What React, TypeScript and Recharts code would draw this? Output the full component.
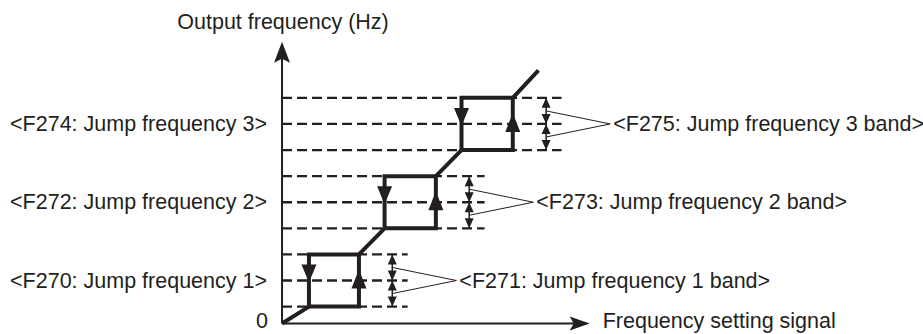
import { ComposedChart, XAxis, YAxis, Line, Scatter, ReferenceLine } from "recharts";

// jump frequencies F270 / F272 / F274 and their band width (F271 / F273 / F275)
const jumpFrequencies = [16.5, 46.5, 76.5];
const jumpBand = 20;
// setting signal where each jump starts / ends
const jumpStartSignal = [10.5, 40, 70];
const jumpEndSignal = [30, 60, 90];
const curveEnd = { x: 100, y: 97 };
const axisEnd = { x: 120, y: 108 };

const jumpLabels = [
  "<F270: Jump frequency 1>",
  "<F272: Jump frequency 2>",
  "<F274: Jump frequency 3>",
];
const bandLabels = [
  "<F271: Jump frequency 1 band>",
  "<F273: Jump frequency 2 band>",
  "<F275: Jump frequency 3 band>",
];
const yTitle = "Output frequency (Hz)";
const xTitle = "Frequency setting signal";
const originLabel = "0";

const INK = "#231f20";
const FONT = "'Liberation Sans', Arial, sans-serif";
const FS = 21.5;
const half = jumpBand / 2;
const arrowX = (i: number) => jumpEndSignal[i] + 13;
const dashEnd = (i: number) => jumpEndSignal[i] + 19;
const tipX = (i: number) => jumpEndSignal[i] + 38;

// diagonal pieces of the curve, broken by nulls at each jump
const curve: { x: number; y: number | null }[] = [{ x: 0, y: 0 }];
jumpFrequencies.forEach((f, i) => {
  curve.push({ x: jumpStartSignal[i], y: f - half });
  curve.push({ x: jumpStartSignal[i] + 1, y: null });
  curve.push({ x: jumpEndSignal[i], y: f + half });
});
curve.push(curveEnd);

const boxes = jumpFrequencies.map((f, i) => [
  { x: jumpStartSignal[i], y: f - half },
  { x: jumpEndSignal[i], y: f - half },
  { x: jumpEndSignal[i], y: f + half },
  { x: jumpStartSignal[i], y: f + half },
  { x: jumpStartSignal[i], y: f - half },
]);

const marks: any[] = [
  { x: 0, y: axisEnd.y, kind: "yTip" },
  { x: axisEnd.x, y: 0, kind: "xTip" },
  { x: 0, y: axisEnd.y, kind: "yTitle", text: yTitle },
  { x: axisEnd.x, y: 0, kind: "xTitle", text: xTitle },
  { x: 0, y: 0, kind: "left", text: originLabel, dx: -14, dy: -3 },
];
jumpFrequencies.forEach((f, i) => {
  marks.push({ x: jumpStartSignal[i], y: f, kind: "down" });
  marks.push({ x: jumpEndSignal[i], y: f, kind: "up" });
  marks.push({ x: arrowX(i), y: f + half, kind: "headUp" });
  marks.push({ x: arrowX(i), y: f, kind: "headBoth" });
  marks.push({ x: arrowX(i), y: f - half, kind: "headDown" });
  marks.push({ x: 0, y: f, kind: "left", text: jumpLabels[i], dx: -15, dy: 0 });
  marks.push({ x: tipX(i), y: f, kind: "right", text: bandLabels[i] });
});

function Mark(props: any) {
  const { cx, cy, payload } = props;
  const t = { fontFamily: FONT, fontSize: FS, fill: INK };
  switch (payload.kind) {
    case "yTip":
      return <polygon points={`${cx},${cy} ${cx + 8},${cy + 21} ${cx},${cy + 17} ${cx - 8},${cy + 21}`} fill={INK} />;
    case "xTip":
      return <polygon points={`${cx},${cy} ${cx - 20},${cy - 7} ${cx - 16},${cy} ${cx - 20},${cy + 7}`} fill={INK} />;
    case "down":
      return <polygon points={`${cx - 7.5},${cy - 16} ${cx + 7.5},${cy - 16} ${cx},${cy + 2}`} fill={INK} />;
    case "up":
      return <polygon points={`${cx},${cy - 11} ${cx - 7.5},${cy + 8} ${cx + 7.5},${cy + 8}`} fill={INK} />;
    case "headUp":
      return <polygon points={`${cx},${cy} ${cx - 4.5},${cy + 10} ${cx + 4.5},${cy + 10}`} fill={INK} />;
    case "headDown":
      return <polygon points={`${cx},${cy} ${cx - 4.5},${cy - 10} ${cx + 4.5},${cy - 10}`} fill={INK} />;
    case "headBoth":
      return (
        <g>
          <polygon points={`${cx},${cy} ${cx - 4.5},${cy - 10} ${cx + 4.5},${cy - 10}`} fill={INK} />
          <polygon points={`${cx},${cy} ${cx - 4.5},${cy + 10} ${cx + 4.5},${cy + 10}`} fill={INK} />
        </g>
      );
    case "yTitle":
      return <text x={cx + 1} y={cy - 20} textAnchor="middle" dominantBaseline="central" {...t}>{payload.text}</text>;
    case "xTitle":
      return <text x={cx + 13} y={cy - 3} dominantBaseline="central" {...t}>{payload.text}</text>;
    case "left":
      return <text x={cx + payload.dx} y={cy + payload.dy} textAnchor="end" dominantBaseline="central" {...t}>{payload.text}</text>;
    case "right":
      return <text x={cx + 3} y={cy} dominantBaseline="central" {...t}>{payload.text}</text>;
  }
  return <g />;
}

export default function App() {
  return (
    <div style={{ position: "absolute", left: 0, top: 0 }}>
      <ComposedChart width={923} height={334} margin={{ top: 0, right: 0, bottom: 0, left: 0 }}>
        <XAxis type="number" dataKey="x" domain={[-110, 250]} allowDataOverflow hide />
        <YAxis type="number" dataKey="y" domain={[-4, 124]} allowDataOverflow hide />

        {/* axes */}
        <ReferenceLine segment={[{ x: 0, y: 0 }, { x: 0, y: axisEnd.y - 4 }]} stroke={INK} strokeWidth={2} />
        <ReferenceLine segment={[{ x: 0, y: 0 }, { x: axisEnd.x - 4, y: 0 }]} stroke={INK} strokeWidth={2} />

        {/* dashed band lines */}
        {jumpFrequencies.flatMap((f, i) =>
          [f + half, f, f - half].map((y, k) => (
            <ReferenceLine
              key={`d${i}${k}`}
              segment={[{ x: 0, y }, { x: dashEnd(i), y }]}
              stroke={INK}
              strokeWidth={2.3}
              strokeDasharray="10 5"
            />
          ))
        )}

        {/* band dimension arrows and callouts */}
        {jumpFrequencies.flatMap((f, i) => [
          <ReferenceLine key={`v${i}`} segment={[{ x: arrowX(i), y: f - half }, { x: arrowX(i), y: f + half }]} stroke={INK} strokeWidth={1.5} />,
          <ReferenceLine key={`c1${i}`} segment={[{ x: tipX(i), y: f }, { x: arrowX(i), y: f + 5 }]} stroke={INK} strokeWidth={1} />,
          <ReferenceLine key={`c2${i}`} segment={[{ x: tipX(i), y: f }, { x: arrowX(i), y: f - 5 }]} stroke={INK} strokeWidth={1} />,
        ])}

        <Line data={curve} dataKey="y" stroke={INK} strokeWidth={4} dot={false} activeDot={false} isAnimationActive={false} connectNulls={false} />
        {boxes.map((b, i) => (
          <Line key={`b${i}`} data={b} dataKey="y" stroke={INK} strokeWidth={4} strokeLinejoin="miter" dot={false} activeDot={false} isAnimationActive={false} />
        ))}
        <Scatter data={marks} dataKey="y" shape={Mark} isAnimationActive={false} />
      </ComposedChart>
    </div>
  );
}
